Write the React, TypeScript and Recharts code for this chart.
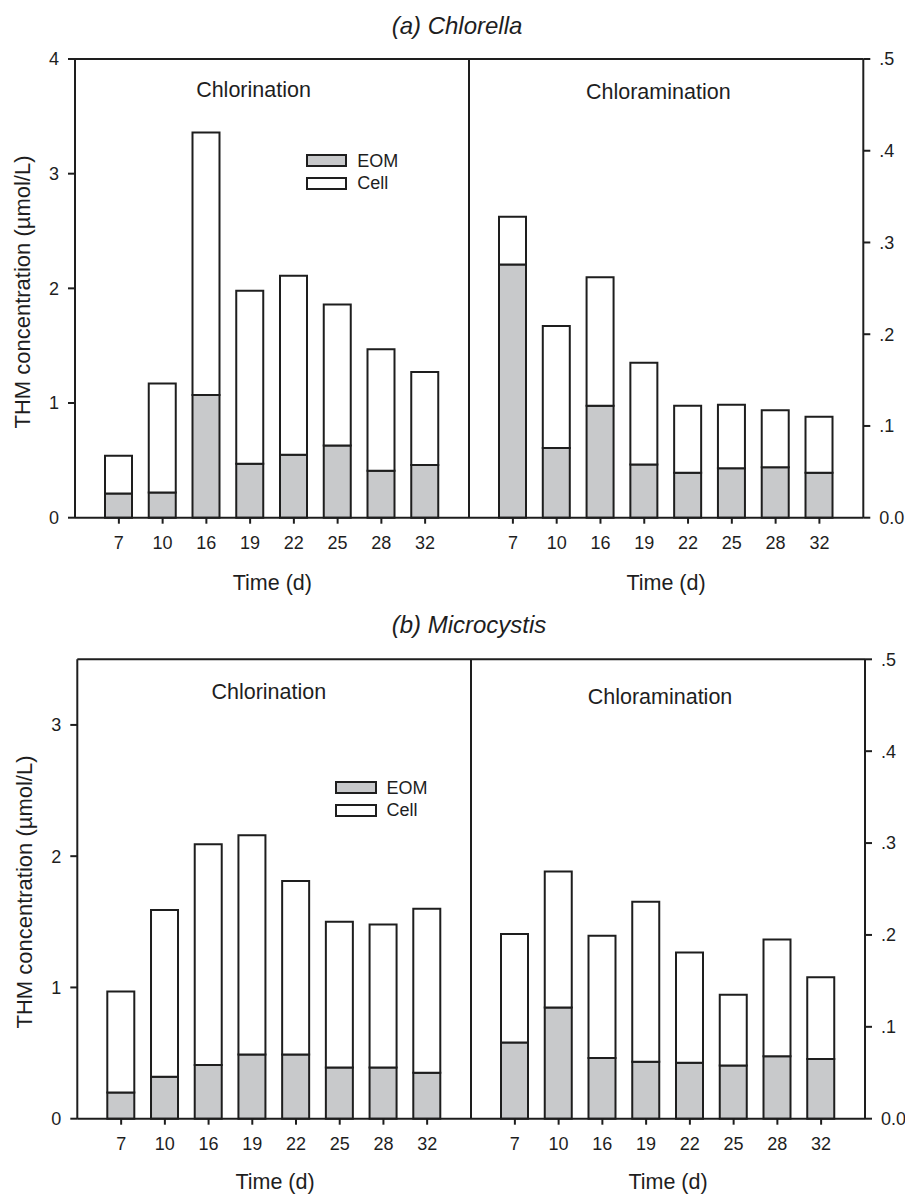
import { BarChart, Bar, XAxis, YAxis, ReferenceLine, Legend, CartesianGrid } from 'recharts'

const days = ['7', '10', '16', '19', '22', '25', '28', '32']

// (a) Chlorella
const chlorellaClEOM = [0.21, 0.22, 1.07, 0.47, 0.55, 0.63, 0.41, 0.46]
const chlorellaClCell = [0.33, 0.95, 2.29, 1.51, 1.56, 1.23, 1.06, 0.81]
const chlorellaNhEOM = [0.276, 0.076, 0.122, 0.058, 0.049, 0.054, 0.055, 0.049]
const chlorellaNhCell = [0.052, 0.133, 0.14, 0.111, 0.073, 0.069, 0.062, 0.061]

// (b) Microcystis
const microClEOM = [0.2, 0.32, 0.41, 0.49, 0.49, 0.39, 0.39, 0.35]
const microClCell = [0.77, 1.27, 1.68, 1.67, 1.32, 1.11, 1.09, 1.25]
const microNhEOM = [0.083, 0.121, 0.066, 0.062, 0.061, 0.058, 0.068, 0.065]
const microNhCell = [0.118, 0.148, 0.133, 0.174, 0.12, 0.077, 0.127, 0.089]

const clTicksA = [0, 1, 2, 3, 4]
const clTicksB = [0, 1, 2, 3]
const nhTicks = [0, 0.1, 0.2, 0.3, 0.4, 0.5]

const FONT = '"Liberation Sans", Arial, Helvetica, sans-serif'
const INK = '#1e1e1e'
const GREY = '#c8c9cb'
const seriesOrder = ['EOM', 'Cell']
const fills: Record<string, string> = { EOM: GREY, Cell: '#ffffff' }

const fmtRight = (v: number) => (v === 0 ? '0.0' : String(v).replace(/^0/, ''))

function LegendBox(props: any) {
  const items = [...(props.payload || [])].sort(
    (a: any, b: any) => seriesOrder.indexOf(a.value) - seriesOrder.indexOf(b.value)
  )
  return (
    <div style={{ fontFamily: FONT, fontSize: 18, color: INK }}>
      {items.map((p: any) => (
        <div key={p.value} style={{ display: 'flex', alignItems: 'center', height: 22.7 }}>
          <span style={{ width: 41.5, height: 13.5, boxSizing: 'border-box', border: `2px solid ${INK}`, background: fills[p.value] }} />
          <span style={{ marginLeft: 10, lineHeight: '20px' }}>{p.value}</span>
        </div>
      ))}
    </div>
  )
}

// the divider between the two halves is the right edge of the left plot
const rightEdge = ({ offset }: any) => [offset.left + offset.width]

type HalfProps = {
  eom: number[]
  cell: number[]
  side: 'left' | 'right'
  x: number
  y: number
  width: number
  height: number
  plotTop: number
  plotBottom: number
  axisW: number
  domain: [number, number]
  ticks: number[]
  legendAt?: { left: number; top: number }
}

function Half({ eom, cell, side, x, y, width, height, plotTop, plotBottom, axisW, domain, ticks, legendAt }: HalfProps) {
  const data = days.map((d, i) => ({ day: d, EOM: eom[i], Cell: cell[i] }))
  const isLeft = side === 'left'
  const tickStyle = { fontSize: 18, fill: INK, fontFamily: FONT }
  return (
    <div style={{ position: 'absolute', left: x, top: y }}>
      <BarChart
        width={width}
        height={height}
        data={data}
        barSize={27}
        margin={{ top: plotTop, bottom: height - plotBottom - 40, left: isLeft ? 0 : 3, right: isLeft ? 3 : 0 }}
      >
        {isLeft && (
          <CartesianGrid horizontal={false} verticalCoordinatesGenerator={rightEdge} stroke={INK} strokeWidth={2} />
        )}
        <XAxis
          dataKey="day"
          height={40}
          padding={{ left: 22, right: 22 }}
          tickSize={6}
          tickMargin={13}
          tick={tickStyle}
          axisLine={{ stroke: INK, strokeWidth: 2 }}
          tickLine={{ stroke: INK, strokeWidth: 2 }}
        />
        <YAxis
          orientation={side}
          width={axisW}
          domain={domain}
          ticks={ticks}
          interval={0}
          tickSize={7}
          tickMargin={9}
          tick={tickStyle}
          tickFormatter={isLeft ? undefined : fmtRight}
          axisLine={{ stroke: INK, strokeWidth: 2 }}
          tickLine={{ stroke: INK, strokeWidth: 2 }}
        />
        <ReferenceLine y={domain[1]} stroke={INK} strokeWidth={2} />
        <Bar dataKey="EOM" name="EOM" stackId="s" fill={GREY} stroke={INK} strokeWidth={2} isAnimationActive={false} />
        <Bar dataKey="Cell" name="Cell" stackId="s" fill="#ffffff" stroke={INK} strokeWidth={2} isAnimationActive={false} />
        {legendAt && (
          <Legend
            layout="vertical"
            align="center"
            verticalAlign="middle"
            content={LegendBox}
            wrapperStyle={{ left: legendAt.left, top: legendAt.top, width: 110 }}
          />
        )}
      </BarChart>
    </div>
  )
}

function Txt({ x, y, size, italic, rotate, children }: { x: number; y: number; size: number; italic?: boolean; rotate?: boolean; children: any }) {
  return (
    <div
      style={{
        position: 'absolute',
        left: x,
        top: y,
        transform: `translate(-50%, -50%)${rotate ? ' rotate(-90deg)' : ''}`,
        whiteSpace: 'nowrap',
        fontFamily: FONT,
        fontSize: size,
        fontStyle: italic ? 'italic' : 'normal',
        color: INK,
        lineHeight: 1,
      }}
    >
      {children}
    </div>
  )
}

export default function App() {
  return (
    <div style={{ position: 'absolute', left: 0, top: 0, width: 905, height: 1195, background: '#fff', overflow: 'hidden' }}>
      {/* (a) Chlorella */}
      <Half eom={chlorellaClEOM} cell={chlorellaClCell} side="left" x={0} y={0} width={472} height={600}
        plotTop={59} plotBottom={517.7} axisW={75} domain={[0, 4]} ticks={clTicksA} legendAt={{ left: 305.7, top: 149.4 }} />
      <Half eom={chlorellaNhEOM} cell={chlorellaNhCell} side="right" x={466} y={0} width={439} height={600}
        plotTop={59} plotBottom={517.7} axisW={41.7} domain={[0, 0.5]} ticks={nhTicks} />

      {/* (b) Microcystis */}
      <Half eom={microClEOM} cell={microClCell} side="left" x={0} y={600} width={474} height={595}
        plotTop={59.3} plotBottom={518.7} axisW={77.3} domain={[0, 3.5]} ticks={clTicksB} legendAt={{ left: 335, top: 176.3 }} />
      <Half eom={microNhEOM} cell={microNhCell} side="right" x={468} y={600} width={437} height={595}
        plotTop={59.3} plotBottom={518.7} axisW={40} domain={[0, 0.5]} ticks={nhTicks} />

      <Txt x={457} y={26} size={24} italic>(a) Chlorella</Txt>
      <Txt x={469} y={625} size={24} italic>(b) Microcystis</Txt>

      <Txt x={253.5} y={91} size={21.5}>Chlorination</Txt>
      <Txt x={658.3} y={93} size={21.5}>Chloramination</Txt>
      <Txt x={268.8} y={692.7} size={21.5}>Chlorination</Txt>
      <Txt x={660} y={697.7} size={21.5}>Chloramination</Txt>

      <Txt x={272.3} y={583.5} size={21.5}>Time (d)</Txt>
      <Txt x={666} y={583.5} size={21.5}>Time (d)</Txt>
      <Txt x={275} y={1183.3} size={21.5}>Time (d)</Txt>
      <Txt x={668} y={1183.3} size={21.5}>Time (d)</Txt>

      <Txt x={23} y={292} size={22} rotate>THM concentration (µmol/L)</Txt>
      <Txt x={25} y={892} size={22} rotate>THM concentration (µmol/L)</Txt>
    </div>
  )
}
